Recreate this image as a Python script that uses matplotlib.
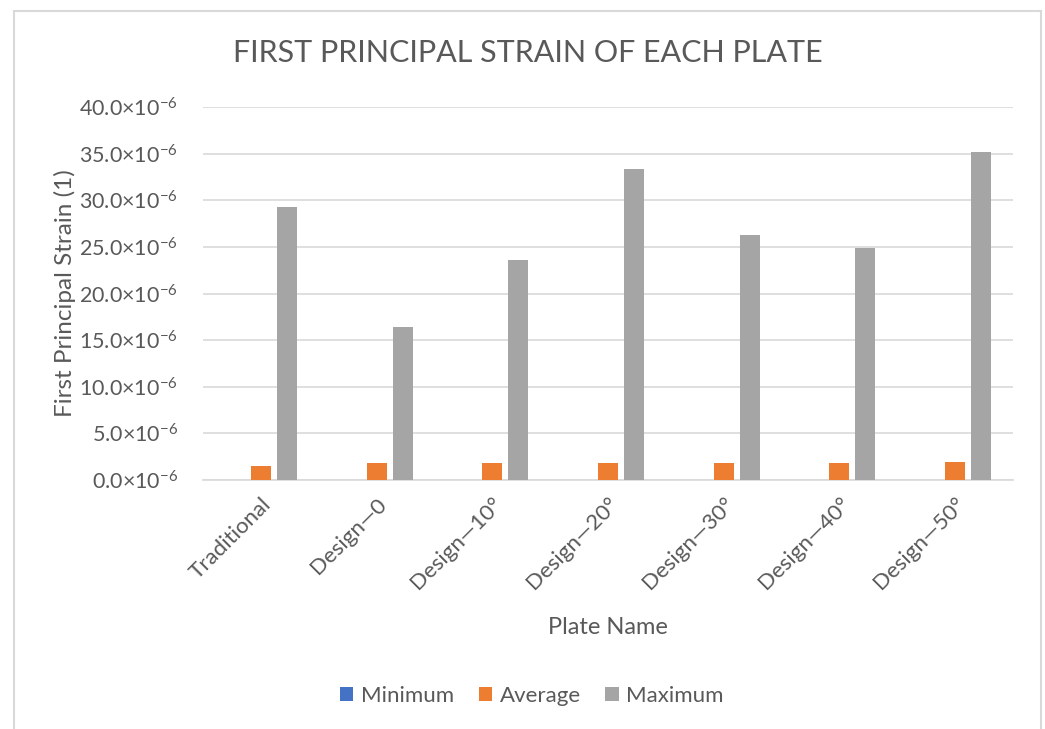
import matplotlib
matplotlib.use("Agg")
import matplotlib.pyplot as plt
import numpy as np
from matplotlib.lines import Line2D

plt.rcParams['font.family'] = ['Lato', 'DejaVu Sans']
plt.rcParams['mathtext.fontset'] = 'custom'
plt.rcParams['mathtext.rm'] = 'Lato'
plt.rcParams['mathtext.it'] = 'Lato:italic'
plt.rcParams['mathtext.bf'] = 'Lato:bold'
plt.rcParams['mathtext.default'] = 'regular'

categories = ["Traditional", "Design\u20140", "Design\u201410\u00b0", "Design\u201420\u00b0",
              "Design\u201430\u00b0", "Design\u201440\u00b0", "Design\u201450\u00b0"]
minimum = [0.0, 0.0, 0.0, 0.0, 0.0, 0.0, 0.0]
average = [1.5e-6, 1.8e-6, 1.8e-6, 1.85e-6, 1.85e-6, 1.85e-6, 1.9e-6]
maximum = [29.3e-6, 16.4e-6, 23.6e-6, 33.35e-6, 26.3e-6, 24.9e-6, 35.2e-6]
series_names = ["Minimum", "Average", "Maximum"]
colors = ["#4472C4", "#ED7D31", "#A5A5A5"]
yticks = np.arange(0, 40.1e-6, 5e-6)
ytick_labels = ["%.1f\u00d710$^{-6}$" % (v * 1e6) for v in yticks]

W, H = 1045, 729
fig = plt.figure(figsize=(W / 100, H / 100), dpi=100)
txt = "#595959"

# chart border
for xs, ys in [([14, 14], [0, H - 11]), ([14, 1041], [H - 11, H - 11]), ([1041, 1041], [0, H - 11])]:
    fig.add_artist(Line2D([x / W for x in xs], [y / H for y in ys], color="#D9D9D9", lw=1.5,
                          transform=fig.transFigure))

left, right, top, bottom = 203, 1013, 107, 480
ax = fig.add_axes([left / W, 1 - bottom / H, (right - left) / W, (bottom - top) / H])

x = np.arange(len(categories))
bw = 0.173
step = 0.225
for i, (vals, c) in enumerate(zip([minimum, average, maximum], colors)):
    ax.bar(x + (i - 1) * step, vals, width=bw, color=c, label=series_names[i], zorder=3)

ax.set_xlim(-0.5, len(categories) - 0.5)
ax.set_ylim(0, 40e-6)
ax.set_yticks(yticks)
ax.set_yticklabels(ytick_labels, fontsize=15.5, color=txt)
ax.set_xticks(x)
ax.set_xticklabels(categories, fontsize=16, color=txt, rotation=45, ha='right', va='top',
                   rotation_mode='anchor')
ax.tick_params(axis='both', length=0)
ax.tick_params(axis='y', pad=18)
ax.tick_params(axis='x', pad=10)
ax.grid(axis='y', color="#D9D9D9", lw=1.2, zorder=0)
for s in ['top', 'right', 'left']:
    ax.spines[s].set_visible(False)
ax.spines['bottom'].set_color("#D9D9D9")
ax.spines['bottom'].set_linewidth(1.2)

fig.text(65 / W, 1 - 293 / H, "First Principal Strain (1)", fontsize=17.5, color=txt,
         ha='center', va='center', rotation=90)
fig.text(608 / W, 1 - 627 / H, "Plate Name", fontsize=17, color=txt, ha='center', va='center')
fig.text(528 / W, 1 - 53 / H, "FIRST PRINCIPAL STRAIN OF EACH PLATE", fontsize=22, color=txt,
         ha='center', va='center')

fig.legend(loc='center', bbox_to_anchor=(532 / W, 1 - 696 / H), ncol=3, frameon=False,
           fontsize=16, handlelength=0.6, handleheight=0.6, handletextpad=0.35, columnspacing=1.1,
           labelcolor=txt)

fig.savefig("out.png", dpi=100, facecolor="white")
